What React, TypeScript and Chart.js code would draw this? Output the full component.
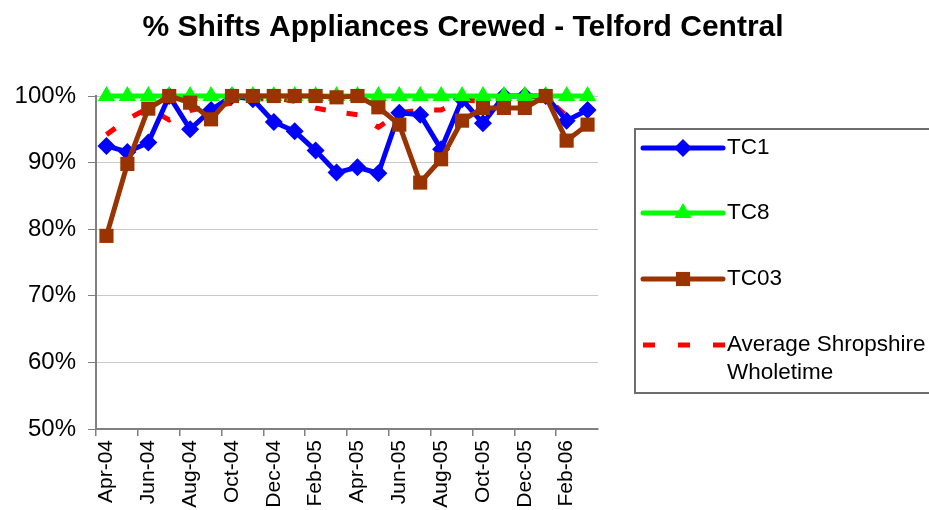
import React, { useEffect, useRef } from "react";
import { Chart, registerables } from "chart.js";

Chart.register(...registerables);

const FONT = "'Liberation Sans', Arial, Helvetica, sans-serif";
const chartTitle = "% Shifts Appliances Crewed - Telford Central";

const months = [
  "Apr-04", "May-04", "Jun-04", "Jul-04", "Aug-04", "Sep-04", "Oct-04", "Nov-04",
  "Dec-04", "Jan-05", "Feb-05", "Mar-05", "Apr-05", "May-05", "Jun-05", "Jul-05",
  "Aug-05", "Sep-05", "Oct-05", "Nov-05", "Dec-05", "Jan-06", "Feb-06", "Mar-06",
];

const tc1 = [
  92.5, 91.6, 93.0, 100, 95.0, 97.9, 100, 99.5, 96.1, 94.7, 91.8, 88.5,
  89.3, 88.4, 97.5, 97.2, 92.0, 99.5, 95.9, 100, 100, 100, 96.3, 97.9,
];

const tc8 = [
  100, 100, 100, 100, 100, 100, 100, 100, 100, 100, 100, 100,
  100, 100, 100, 100, 100, 100, 100, 100, 100, 100, 100, 100,
];

const tc03 = [
  79.0, 89.8, 98.1, 100, 99.0, 96.5, 100, 100, 100, 100, 100, 99.8,
  100, 98.3, 95.7, 87.0, 90.5, 96.3, 98.2, 98.2, 98.2, 100, 93.3, 95.7,
];

const avgShropshire = [
  94.2, 96.5, 98.2, 96.4, 97.8, 98.5, 98.9, 99.5, 99.7, 99.2, 98.2, 97.6,
  97.2, 95.3, 97.5, 97.9, 97.9, 99.4, 99.2, 99.5, 99.9, 99.8, 97.0, 97.8,
];

const yMin = 50;
const yMax = 100;
const yStep = 10;

const seriesNames = ["TC1", "TC8", "TC03", "Average Shropshire Wholetime"];
const legendLines = [["TC1"], ["TC8"], ["TC03"], ["Average Shropshire", "Wholetime"]];

function drawMarker(ctx: CanvasRenderingContext2D, style: string, x: number, y: number, r: number, color: string) {
  ctx.save();
  ctx.fillStyle = color;
  ctx.beginPath();
  if (style === "rectRot") {
    ctx.moveTo(x, y - r);
    ctx.lineTo(x + r, y);
    ctx.lineTo(x, y + r);
    ctx.lineTo(x - r, y);
    ctx.closePath();
  } else if (style === "triangle") {
    ctx.moveTo(x, y - r);
    ctx.lineTo(x + r * 0.866, y + r * 0.5);
    ctx.lineTo(x - r * 0.866, y + r * 0.5);
    ctx.closePath();
  } else if (style === "rect") {
    const h = r * Math.SQRT1_2;
    ctx.rect(x - h, y - h, 2 * h, 2 * h);
  }
  ctx.fill();
  ctx.restore();
}

const overlayPlugin = {
  id: "overlay",
  afterDraw(chart: any) {
    const ctx: CanvasRenderingContext2D = chart.ctx;
    ctx.save();
    // Title
    ctx.font = `bold 30px ${FONT}`;
    ctx.fillStyle = "#000";
    ctx.textAlign = "center";
    ctx.textBaseline = "alphabetic";
    ctx.fillText(chartTitle, 463, 36);

    // Legend box
    ctx.strokeStyle = "#6e6e6e";
    ctx.lineWidth = 2;
    ctx.strokeRect(635, 129, 320, 264);

    const rowsY = [148, 213, 279, 345];
    const x0 = 643;
    const x1 = 723;
    const datasets = chart.data.datasets;
    const legendOrder = [0, 1, 2, 3];
    legendOrder.forEach((di, row) => {
      const ds = datasets.find((d: any) => d.label === seriesNames[di]);
      const y = rowsY[row];
      ctx.save();
      ctx.strokeStyle = ds.borderColor;
      ctx.lineWidth = 5;
      if (ds.borderDash && ds.borderDash.length) {
        ctx.setLineDash([12, 23]);
        ctx.lineCap = "butt";
        ctx.beginPath();
        ctx.moveTo(x0, y);
        ctx.lineTo(x1 + 2, y);
        ctx.stroke();
      } else {
        ctx.lineCap = "round";
        ctx.beginPath();
        ctx.moveTo(x0, y);
        ctx.lineTo(x1, y);
        ctx.stroke();
        if (ds.pointStyle && ds.pointRadius > 0) {
          drawMarker(ctx, ds.pointStyle, (x0 + x1) / 2, y, ds.pointRadius, ds.pointBackgroundColor);
        }
      }
      ctx.restore();
      ctx.font = `22.5px ${FONT}`;
      ctx.fillStyle = "#000";
      ctx.textAlign = "left";
      ctx.textBaseline = "middle";
      legendLines[di].forEach((t, k) => {
        ctx.fillText(t, 727, y + k * 28);
      });
    });
    ctx.restore();
  },
};

export default function App() {
  const canvasRef = useRef<HTMLCanvasElement | null>(null);

  useEffect(() => {
    document.body.style.margin = "0";
    const canvas = canvasRef.current;
    if (!canvas) return;
    const chart = new Chart(canvas, {
      type: "line",
      data: {
        labels: months,
        datasets: [
          {
            label: seriesNames[0],
            data: tc1,
            borderColor: "#0000FF",
            backgroundColor: "#0000FF",
            pointBackgroundColor: "#0000FF",
            pointBorderColor: "#0000FF",
            pointBorderWidth: 0,
            pointStyle: "rectRot",
            pointRadius: 9,
            borderWidth: 5,
            tension: 0,
            clip: false,
            order: 2,
          },
          {
            label: seriesNames[1],
            data: tc8,
            borderColor: "#00FF00",
            backgroundColor: "#00FF00",
            pointBackgroundColor: "#00FF00",
            pointBorderColor: "#00FF00",
            pointBorderWidth: 0,
            pointStyle: "triangle",
            pointRadius: 10,
            borderWidth: 5,
            tension: 0,
            clip: false,
            order: 1,
          },
          {
            label: seriesNames[2],
            data: tc03,
            borderColor: "#993300",
            backgroundColor: "#993300",
            pointBackgroundColor: "#993300",
            pointBorderColor: "#993300",
            pointBorderWidth: 0,
            pointStyle: "rect",
            pointRadius: 10,
            borderWidth: 5,
            tension: 0,
            clip: false,
            order: 0,
          },
          {
            label: seriesNames[3],
            data: avgShropshire,
            borderColor: "#FF0000",
            backgroundColor: "#FF0000",
            borderDash: [11, 21],
            borderCapStyle: "butt",
            pointRadius: 0,
            borderWidth: 5,
            tension: 0,
            clip: false,
            order: 3,
          },
        ],
      },
      options: {
        animation: false,
        responsive: false,
        maintainAspectRatio: false,
        layout: { padding: { top: 96, right: 331, left: 0, bottom: 0 } },
        plugins: {
          legend: { display: false },
          title: { display: false },
          tooltip: { enabled: false },
        },
        scales: {
          x: {
            type: "category",
            offset: true,
            afterFit: (scale: any) => {
              scale.height = 81;
            },
            grid: {
              offset: true,
              drawOnChartArea: false,
              drawTicks: true,
              tickLength: 7,
              color: (ctx: any) => (ctx.index % 2 === 0 ? "#808080" : "rgba(0,0,0,0)"),
              lineWidth: 1.5,
            },
            border: { color: "#808080", width: 2 },
            ticks: {
              autoSkip: false,
              maxRotation: 90,
              minRotation: 90,
              padding: 4,
              color: "#000",
              font: { family: FONT, size: 21 },
              callback: function (this: any, val: any, idx: number) {
                return idx % 2 === 0 ? this.getLabelForValue(val) : "";
              },
            },
          },
          y: {
            min: yMin,
            max: yMax,
            afterFit: (scale: any) => {
              scale.width = 96;
            },
            grid: {
              color: "#c8c8c8",
              lineWidth: 1,
              drawTicks: true,
              tickLength: 8,
              tickColor: "#808080",
            },
            border: { color: "#808080", width: 2 },
            ticks: {
              stepSize: yStep,
              padding: 12,
              color: "#000",
              font: { family: FONT, size: 24 },
              callback: (v: any) => `${v}%`,
            },
          },
        },
      },
      plugins: [overlayPlugin],
    } as any);
    return () => chart.destroy();
  }, []);

  return (
    <div style={{ position: "fixed", left: 0, top: 0, width: 929, height: 510, background: "#fff" }}>
      <canvas ref={canvasRef} width={929} height={510} style={{ display: "block", width: 929, height: 510 }} />
    </div>
  );
}
